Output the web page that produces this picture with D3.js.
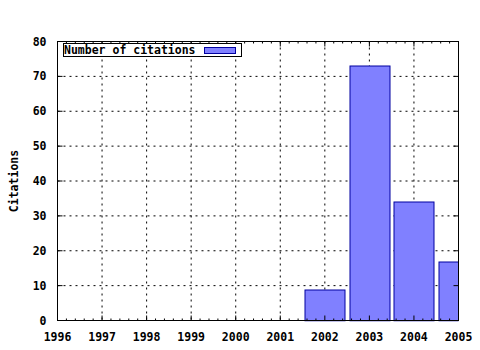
<!DOCTYPE html>
<html>
<head>
<meta charset="utf-8">
<script src="https://cdn.jsdelivr.net/npm/d3@7"></script>
<style>
  body { margin: 0; background: #fff; }
  text { font-family: "DejaVu Sans Mono", monospace; font-weight: bold; font-size: 11.5px; fill: #000; }
</style>
</head>
<body>
<svg id="chart" width="480" height="350"></svg>
<script>
// Chart data.
const years = [2002, 2003, 2004, 2005];
const citations = [9, 73, 34, 17];
const xTicks = [1996, 1997, 1998, 1999, 2000, 2001, 2002, 2003, 2004, 2005];
const yTicks = [0, 10, 20, 30, 40, 50, 60, 70, 80];
const seriesName = 'Number of citations';
const yLabel = 'Citations';

const svg = d3.select('#chart');
const margin = {left: 57.5, right: 21.5, top: 41.5, bottom: 29.5};
const width = 480 - margin.left - margin.right;
const height = 350 - margin.top - margin.bottom;

const x = d3.scaleLinear().domain([1996, 2005]).range([0, width]);
const y = d3.scaleLinear().domain([0, 80]).range([height, 0]);

const g = svg.append('g').attr('transform', `translate(${margin.left},${margin.top})`);

// Dotted grid at the major ticks.
g.append('g')
  .selectAll('line')
  .data(xTicks.slice(1, -1))
  .join('line')
  .attr('x1', (d) => x(d)).attr('x2', (d) => x(d))
  .attr('y1', 0).attr('y2', height)
  .attr('stroke', '#000').attr('stroke-width', 1).attr('stroke-dasharray', '2,4');
g.append('g')
  .selectAll('line')
  .data(yTicks.slice(1, -1))
  .join('line')
  .attr('x1', 0).attr('x2', width)
  .attr('y1', (d) => y(d)).attr('y2', (d) => y(d))
  .attr('stroke', '#000').attr('stroke-width', 1).attr('stroke-dasharray', '2,4');

// Bars, clipped to the plot area (the last one runs off the right edge).
svg.append('clipPath').attr('id', 'plot-clip')
  .append('rect').attr('x', 0).attr('y', -1).attr('width', width).attr('height', height + 2);

const step = x(1997) - x(1996);
const barW = step * 0.9;
g.append('g')
  .attr('clip-path', 'url(#plot-clip)')
  .selectAll('rect')
  .data(years.map((yr, i) => ({yr, v: citations[i]})))
  .join('rect')
  .attr('x', (d) => Math.round(x(d.yr) - barW / 2) + 0.5)
  .attr('y', (d) => Math.round(y(d.v)) + 0.5)
  .attr('width', Math.round(barW))
  .attr('height', (d) => Math.round(height - y(d.v)))
  .attr('fill', '#8080ff')
  .attr('stroke', '#0000a0')
  .attr('stroke-width', 1);

// Border box.
g.append('rect')
  .attr('width', width).attr('height', height)
  .attr('fill', 'none').attr('stroke', '#000');

// Inward tick marks: major on all four sides, minor on the x axes.
const tickG = g.append('g').attr('stroke', '#000');
const minor = d3.range(1996, 2005.001, 0.2).filter((d) => Math.abs(d - Math.round(d)) > 1e-6);
xTicks.forEach((d) => {
  tickG.append('line').attr('x1', x(d)).attr('x2', x(d)).attr('y1', height).attr('y2', height - 5);
  tickG.append('line').attr('x1', x(d)).attr('x2', x(d)).attr('y1', 0).attr('y2', 5);
});
minor.forEach((d) => {
  tickG.append('line').attr('x1', x(d)).attr('x2', x(d)).attr('y1', height).attr('y2', height - 2);
  tickG.append('line').attr('x1', x(d)).attr('x2', x(d)).attr('y1', 0).attr('y2', 2);
});
yTicks.forEach((d) => {
  tickG.append('line').attr('x1', 0).attr('x2', 5).attr('y1', y(d)).attr('y2', y(d));
  tickG.append('line').attr('x1', width).attr('x2', width - 5).attr('y1', y(d)).attr('y2', y(d));
});

// Tick labels.
g.append('g')
  .selectAll('text')
  .data(xTicks)
  .join('text')
  .attr('x', (d) => x(d))
  .attr('y', height + 20)
  .attr('text-anchor', 'middle')
  .text((d) => d);
g.append('g')
  .selectAll('text')
  .data(yTicks)
  .join('text')
  .attr('x', -11)
  .attr('y', (d) => y(d) + 4)
  .attr('text-anchor', 'end')
  .text((d) => d);

// Y axis title.
svg.append('text')
  .attr('transform', `translate(18,${margin.top + height / 2}) rotate(-90)`)
  .attr('text-anchor', 'middle')
  .text(yLabel);

// Legend.
const leg = svg.append('g');
leg.append('rect')
  .attr('x', 63.5).attr('y', 43.5).attr('width', 178).attr('height', 13)
  .attr('fill', '#fff').attr('stroke', '#000');
leg.append('text').attr('x', 64).attr('y', 54).text(seriesName);
leg.append('rect')
  .attr('x', 204.5).attr('y', 47.5).attr('width', 31).attr('height', 6)
  .attr('fill', '#8080ff').attr('stroke', '#0000a0');
</script>
</body>
</html>
